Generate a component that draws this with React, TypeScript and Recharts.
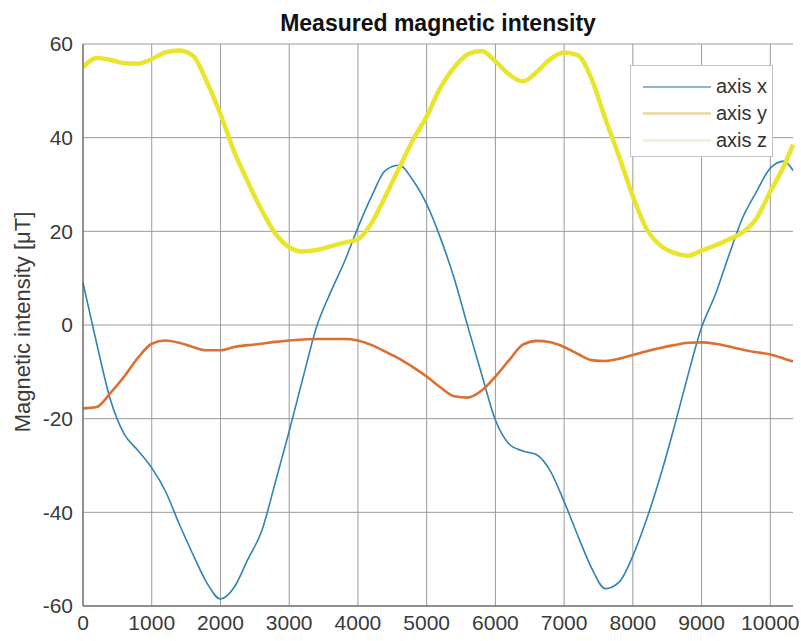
import { LineChart, Line, XAxis, YAxis, CartesianGrid } from 'recharts';

// sample index (x axis)
const samples = [
  0, 200, 400, 600, 800, 1000, 1200, 1400, 1600, 1800, 2000, 2200, 2400, 2600, 2800, 3000, 3200, 3400,
  3600, 3800, 4000, 4200, 4400, 4600, 4800, 5000, 5200, 5400, 5600, 5800, 6000, 6200, 6400, 6600, 6800,
  7000, 7200, 7400, 7600, 7800, 8000, 8200, 8400, 8600, 8800, 9000, 9200, 9400, 9600, 9800, 10000, 10200, 10330,
];

// magnetic intensity, uT
const axisX = [
  9, -4, -16, -23.3, -26.8, -30.5, -35.5, -42.5, -49, -55, -58.5, -56, -50, -44, -33.5, -22.7, -11.3, -0.3,
  6.9, 13.4, 20.8, 27.5, 33, 34.1, 30.9, 25.8, 18.6, 10, -0.4, -10.5, -20.3, -25.4, -26.9, -27.7, -31.2,
  -37.7, -45, -51.9, -56.3, -54.9, -49.3, -41.5, -32.3, -21.9, -10.8, -0.5, 6.5, 15, 23, 28.5, 33.5, 35, 33,
];

const axisY = [
  -17.8, -17.5, -14.5, -11, -7, -4, -3.3, -3.8, -4.7, -5.4, -5.4, -4.7, -4.3, -4, -3.6, -3.3, -3.1, -3,
  -3, -3, -3.3, -4.3, -5.7, -7.2, -9, -11, -13.3, -15.2, -15.5, -14, -11, -7.5, -4.2, -3.4, -3.7,
  -4.7, -6.2, -7.5, -7.7, -7.2, -6.4, -5.6, -4.9, -4.3, -3.8, -3.7, -4, -4.6, -5.3, -5.8, -6.3, -7.2, -7.8,
];

const axisZ = [
  55, 57, 56.6, 55.9, 55.8, 56.8, 58.2, 58.6, 57.5, 52, 45, 37, 30.5, 24.5, 19.5, 16.6, 15.7, 16,
  16.8, 17.6, 18.3, 21.8, 27.5, 33.5, 39.5, 44.5, 50.7, 55, 57.8, 58.5, 56.3, 53.5, 52, 54, 56.8,
  58.2, 57.6, 52.5, 44, 36, 27.5, 20.5, 17, 15.4, 14.8, 15.9, 17, 18.3, 19.8, 22.8, 28.5, 34, 38.5,
];

const xTicks = [0, 1000, 2000, 3000, 4000, 5000, 6000, 7000, 8000, 9000, 10000];
const yTicks = [-60, -40, -20, 0, 20, 40, 60];

const seriesNames = ['axis x', 'axis y', 'axis z'];
const seriesColors = ['#2f83b5', '#dc7032', '#e8e52c'];
const legendColors = ['#8cb8d6', '#ebdcb2', '#f4f2cc'];

const data = samples.map((s, i) => ({ s, x: axisX[i], y: axisY[i], z: axisZ[i] }));

const font = 'Liberation Sans, Arial, sans-serif';

// MATLAB-style legend box, drawn on top of the plot
const MatlabLegend = () => (
  <div
    style={{
      position: 'absolute',
      left: 630,
      top: 65,
      width: 143,
      height: 92,
      border: '1px solid #c4c4c4',
      background: '#fff',
      fontFamily: font,
      fontSize: 20,
      color: '#333',
      boxSizing: 'border-box',
      paddingTop: 7,
    }}
  >
    {seriesNames.map((name, i) => (
      <div key={name} style={{ display: 'flex', alignItems: 'center', height: 27 }}>
        <div style={{ marginLeft: 12, width: 68, height: i === 0 ? 2 : 3, background: legendColors[i] }} />
        <span style={{ marginLeft: 5 }}>{name}</span>
      </div>
    ))}
  </div>
);

export default function App() {
  return (
    <div style={{ position: 'absolute', left: 0, top: 0, width: 801, height: 641, background: '#fff' }}>
      <div
        style={{
          position: 'absolute',
          left: 0,
          width: 876,
          top: 10,
          textAlign: 'center',
          fontFamily: font,
          fontWeight: 'bold',
          fontSize: 23,
          color: '#111',
        }}
      >
        Measured magnetic intensity
      </div>
      <div
        style={{
          position: 'absolute',
          left: 23,
          top: 322,
          transform: 'translate(-50%, -50%) rotate(-90deg)',
          whiteSpace: 'nowrap',
          fontFamily: font,
          fontSize: 22,
          color: '#3a3a3a',
        }}
      >
        Magnetic intensity [μT]
      </div>
      <LineChart width={801} height={641} data={data} margin={{ top: 44, right: 8, bottom: 0, left: 0 }}>
        <CartesianGrid stroke="#9a9a9a" strokeWidth={1} horizontalValues={yTicks} verticalValues={xTicks} />
        <XAxis
          dataKey="s"
          type="number"
          domain={[0, 10330]}
          ticks={xTicks}
          interval={0}
          height={35}
          tickSize={0}
          tickMargin={9}
          tickLine={false}
          axisLine={{ stroke: '#555' }}
          tick={{ fill: '#3a3a3a', fontSize: 21, fontFamily: font }}
        />
        <XAxis xAxisId="top" orientation="top" type="number" dataKey="s" domain={[0, 10330]} height={0} tick={false} tickLine={false} axisLine={{ stroke: '#555' }} />
        <YAxis
          type="number"
          domain={[-60, 60]}
          ticks={yTicks}
          interval={0}
          width={83}
          tickSize={0}
          tickMargin={10}
          tickLine={false}
          axisLine={{ stroke: '#555' }}
          tick={{ fill: '#3a3a3a', fontSize: 21, fontFamily: font }}
        />
        <YAxis yAxisId="right" orientation="right" type="number" domain={[-60, 60]} width={0} tick={false} tickLine={false} axisLine={{ stroke: '#555' }} />
        <Line dataKey="x" name={seriesNames[0]} stroke={seriesColors[0]} strokeWidth={1.6} dot={false} type="monotone" isAnimationActive={false} />
        <Line dataKey="y" name={seriesNames[1]} stroke={seriesColors[1]} strokeWidth={2.6} dot={false} type="monotone" isAnimationActive={false} />
        <Line dataKey="z" name={seriesNames[2]} stroke={seriesColors[2]} strokeWidth={4.5} dot={false} type="monotone" isAnimationActive={false} />
      </LineChart>
      <MatlabLegend />
    </div>
  );
}
